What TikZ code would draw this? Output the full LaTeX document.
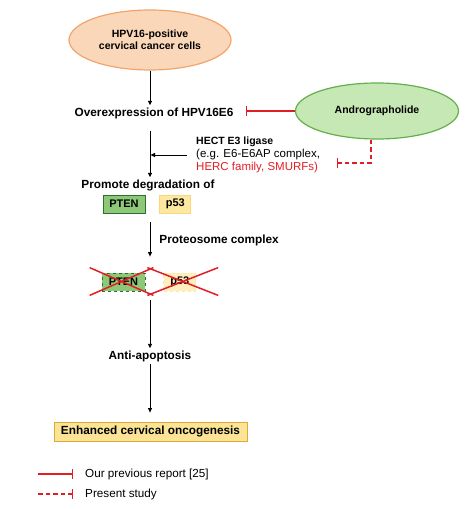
\documentclass[tikz,border=0pt]{standalone}
\usepackage{fontspec}
\setmainfont{Liberation Sans}
\usetikzlibrary{shapes,arrows.meta,positioning}

\definecolor{cellfill}{RGB}{251,215,185}
\definecolor{cellline}{RGB}{240,165,110}
\definecolor{drugfill}{RGB}{198,232,180}
\definecolor{drugline}{RGB}{100,175,75}
\definecolor{ptenfill}{RGB}{140,200,120}
\definecolor{ptenline}{RGB}{50,110,45}
\definecolor{p53fill}{RGB}{253,232,160}
\definecolor{p53line}{RGB}{248,215,125}
\definecolor{endfill}{RGB}{252,228,150}
\definecolor{endline}{RGB}{220,170,60}
\definecolor{redline}{RGB}{225,30,35}

\begin{document}
\begin{tikzpicture}[x=1pt, y=-1pt, node distance = 14pt]
            % Styles
            \tikzstyle{cellbox} = [ellipse, draw=cellline, fill=cellfill, line width=1.2pt,
            minimum width=162pt, minimum height=60pt, align=center,
            font=\fontsize{10.5}{12}\selectfont\bfseries]
            \tikzstyle{drugbox} = [ellipse, draw=drugline, fill=drugfill, line width=1.2pt,
            minimum width=163pt, minimum height=56pt, font=\fontsize{10.5}{12}\selectfont\bfseries]
            \tikzstyle{steplabel} = [inner sep=2pt, font=\fontsize{11.8}{13}\selectfont\bfseries]
            \tikzstyle{protein} = [rectangle, draw, line width=0.8pt, minimum height=18pt,
            inner sep=0pt, font=\fontsize{11}{12}\selectfont\bfseries]
            \tikzstyle{legendtext} = [anchor=west, inner sep=2pt, font=\fontsize{11.7}{13}\selectfont]
            \tikzstyle{arr} = [draw, line width=0.9pt, -{Triangle[length=4.5pt,width=4pt]}]
            \tikzstyle{inhibit} = [draw=redline, line width=1.1pt, -{Bar[width=10pt,line width=1.1pt]}]
            \tikzstyle{cross} = [draw=redline, line width=1.5pt]

            \useasboundingbox (0,0) rectangle (474,510);

            \node [cellbox] (cells) at (150,40) {HPV16-positive\\cervical cancer cells};
            \node [steplabel] (overexp) at (154,113) {Overexpression of HPV16E6};
            \node [drugbox] (andro) at (377,111) {Andrographolide};
            \node [legendtext, align=left, font=\fontsize{11.5}{13}\selectfont] (hect) at (194,155)
            {{\fontsize{10.5}{13}\selectfont\bfseries HECT E3 ligase}\\(e.g. E6-E6AP complex,\\\textcolor{redline}{HERC family, SMURFs)}};
            \coordinate (hercend) at (337,163);

            \node [steplabel] (promote) at (148,185) {Promote degradation of};
            \node [protein, draw=ptenline, fill=ptenfill, minimum width=42pt] (pten) at (124,204) {PTEN};
            \node [protein, draw=p53line, fill=p53fill, minimum width=31pt, right = of pten] (p53) {p53};

            \node [protein, dashed, draw=ptenline, fill=ptenfill, minimum width=43pt] (xpten) at (123.5,282) {PTEN};
            \node [protein, dashed, draw=p53line!60, fill=p53fill!70, minimum width=32pt, right = 18pt of xpten] (xp53) {p53};

            \node [steplabel] (anti) at (150,356) {Anti-apoptosis};
            \node [protein, draw=endline, fill=endfill, minimum width=193pt, minimum height=19pt,
            font=\fontsize{11.8}{13}\selectfont\bfseries] (onco) at (150.5,431.5) {Enhanced cervical oncogenesis};

            % Legend
            \coordinate (solidstart) at (38,474);
            \coordinate (dashstart) at (38,494);
            \node [legendtext] (prev) at (83,474) {Our previous report [25]};
            \node [legendtext] (present) at (83,494) {Present study};

            \draw [arr] (cells) -- (cells |- overexp.north);
            \draw [arr, shorten <=10pt] (cells |- overexp.south) -- (cells |- promote.north);
            \draw [arr, shorten <=7pt, shorten >=0.5pt] (hect.west) -- (hect.west -| cells);
            \draw [arr, shorten <=9pt, shorten >=16pt] (cells |- pten.south) -- (cells |- xpten.north)
                node [steplabel, midway, right = 7pt, yshift=3pt] (proteo) {Proteosome complex};
            \draw [arr, shorten <=9pt] (cells |- xpten.south) -- (cells |- anti.north);
            \draw [arr, shorten >=9pt] (cells |- anti.south) -- (cells |- onco.north);

            \draw [inhibit, shorten >=10pt] (andro.west) -- (andro.west -| overexp.east);
            \draw [inhibit, dash pattern=on 4.5pt off 3pt] ([xshift=-6pt]andro.south) |- (hercend);

            \draw [cross] ([shift={(-12pt,5pt)}]xpten.north west) -- ([shift={(8pt,-4pt)}]xpten.south east);
            \draw [cross] ([shift={(-12pt,-4pt)}]xpten.south west) -- ([shift={(8pt,5pt)}]xpten.north east);
            \draw [cross] ([shift={(-16pt,5pt)}]xp53.north west) -- ([shift={(22pt,-4pt)}]xp53.south east);
            \draw [cross] ([shift={(-16pt,-4pt)}]xp53.south west) -- ([shift={(22pt,5pt)}]xp53.north east);

            \draw [inhibit, shorten >=10pt] (solidstart) -- (prev.west);
            \draw [inhibit, dash pattern=on 4.5pt off 3pt, shorten >=10pt] (dashstart) -- (present.west);
      \end{tikzpicture}
\end{document}
